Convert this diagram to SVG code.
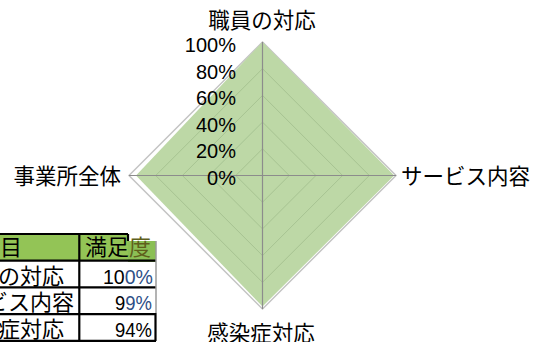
<svg xmlns="http://www.w3.org/2000/svg" width="542" height="342" viewBox="0 0 542 342">
<style>
.cat{font-family:"Noto Sans CJK JP","Noto Sans CJK SC",sans-serif;font-size:21.5px;fill:#000}
.pct{font-family:"Liberation Sans",Arial,sans-serif;font-size:20px;fill:#000;text-anchor:end}
.grid{fill:none;stroke:#a7c392;stroke-width:1}
.outer{fill:none;stroke:#c4c4c4;stroke-width:1.5}
.axis{stroke:#8c8c8c;stroke-width:1.2}
.tbl{font-family:"Noto Sans CJK JP","Noto Sans CJK SC",sans-serif;font-size:22px;fill:#000}
.num{font-family:"Liberation Sans",Arial,sans-serif;font-size:21px;fill:#000;text-anchor:end}
.bd{stroke:#000;stroke-width:2.2;fill:none}
</style>
<rect width="542" height="342" fill="#fff"/>
<g id="radar">
  <polygon class="outer" points="262.5,42 396,175.5 262.5,309 129,175.5"/>
  <polygon points="262.5,42 394.2,175.5 262.5,306.5 136,175.5" fill="#bdd8a6"/>
  <polygon class="grid" points="262.5,148.8 289.2,175.5 262.5,202.2 235.8,175.5"/>
  <polygon class="grid" points="262.5,122.1 315.9,175.5 262.5,228.9 209.1,175.5"/>
  <polygon class="grid" points="262.5,95.4 342.6,175.5 262.5,255.6 182.4,175.5"/>
  <polygon class="grid" points="262.5,68.7 369.3,175.5 262.5,282.3 155.7,175.5"/>
  <line class="axis" x1="262.5" y1="42" x2="262.5" y2="309"/>
  <line class="axis" x1="129" y1="175.5" x2="396" y2="175.5"/>
</g>
<g id="scale">
  <text class="pct" x="236" y="51.5">100%</text>
  <text class="pct" x="236" y="78.5">80%</text>
  <text class="pct" x="236" y="105">60%</text>
  <text class="pct" x="236" y="131.7">40%</text>
  <text class="pct" x="236" y="158.3">20%</text>
  <text class="pct" x="236" y="185">0%</text>
</g>
<g id="label-top"><text class="cat" x="262" y="27.5" text-anchor="middle">職員の対応</text></g>
<g id="label-right"><text class="cat" x="401" y="183.5">サービス内容</text></g>
<g id="label-bottom"><text class="cat" x="261" y="341" text-anchor="middle">感染症対応</text></g>
<g id="label-left"><text class="cat" x="121" y="183.5" text-anchor="end">事業所全体</text></g>
<g id="table">
  <rect x="0" y="234" width="128" height="26.7" fill="#93c456"/>
  <rect x="128" y="241" width="28" height="21" fill="#8bbf55"/>
  <line class="bd" x1="0" y1="234" x2="128" y2="234"/>
  <line class="bd" x1="0" y1="260.7" x2="156" y2="260.7"/>
  <line class="bd" x1="0" y1="287.4" x2="156" y2="287.4"/>
  <line class="bd" x1="0" y1="314.1" x2="156" y2="314.1"/>
  <line class="bd" x1="0" y1="340.8" x2="156" y2="340.8"/>
  <line class="bd" x1="79.3" y1="234" x2="79.3" y2="341"/>
  <line class="bd" x1="128" y1="234" x2="128" y2="241"/>
  <line x1="156" y1="241" x2="156" y2="313" stroke="#9a9a9a" stroke-width="1.5"/>
  <line class="bd" x1="155.5" y1="313" x2="155.5" y2="341"/>
  <text class="tbl" x="22" y="255" text-anchor="end">項目</text>
  <text class="tbl" x="118" y="255" text-anchor="middle">満足<tspan fill="#5f5f1c">度</tspan></text>
  <text class="tbl" x="64" y="283.5" text-anchor="end">職員の対応</text>
  <text class="tbl" x="74" y="310" text-anchor="end">サービス内容</text>
  <text class="tbl" x="64" y="336.5" text-anchor="end">感染症対応</text>
  <text class="num" x="153" y="283.5" textLength="50" lengthAdjust="spacingAndGlyphs">10<tspan fill="#2d4f86">0%</tspan></text>
  <text class="num" x="152" y="310" textLength="37" lengthAdjust="spacingAndGlyphs">9<tspan fill="#2d4f86">9%</tspan></text>
  <text class="num" x="152" y="336.5" textLength="37" lengthAdjust="spacingAndGlyphs">94%</text>
</g>
</svg>
